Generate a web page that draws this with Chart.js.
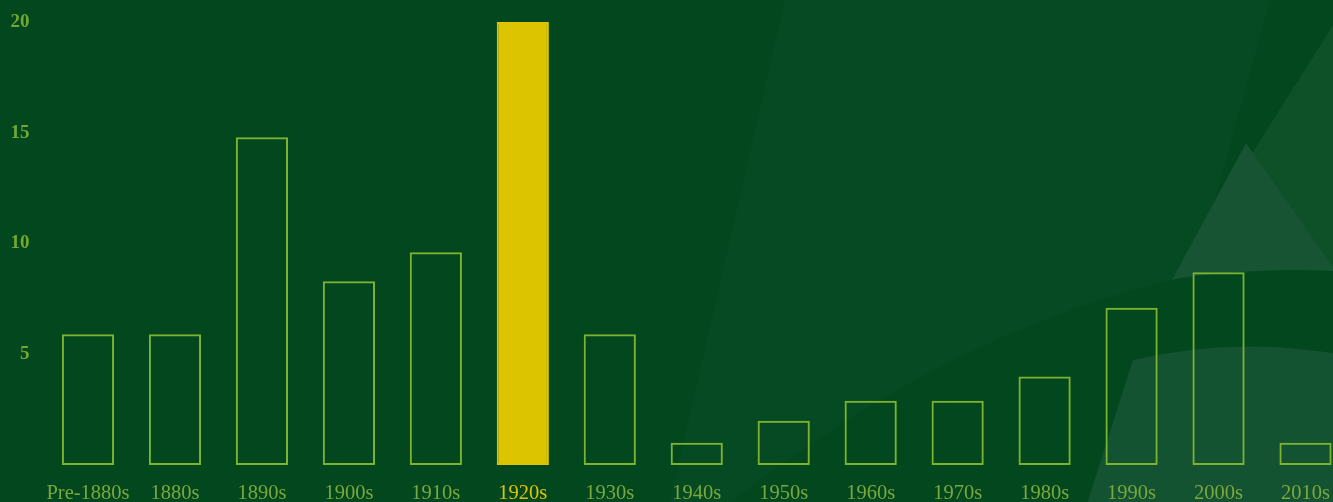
<!DOCTYPE html>
<html>
<head>
<meta charset="utf-8">
<script src="https://cdn.jsdelivr.net/npm/chart.js@4"></script>
<style>
  html, body { margin: 0; padding: 0; background: #03471f; overflow: hidden; }
  #wrap { width: 1349px; height: 510px; }
  canvas { display: block; }
</style>
</head>
<body>
<div id="wrap"><canvas id="myChart" width="1349" height="510"></canvas></div>
<script>
const decades = [
  "Pre-1880s", "1880s", "1890s", "1900s", "1910s", "1920s", "1930s", "1940s",
  "1950s", "1960s", "1970s", "1980s", "1990s", "2000s", "2010s",
];
const shares = [5.9, 5.9, 14.8, 8.3, 9.6, 20, 5.9, 1, 2, 2.9, 2.9, 4, 7.1, 8.7, 1];
const yTicks = [5, 10, 15, 20];
const highlight = "1920s";

const green = "#7db42f";
const yellow = "#dcc400";

// background shapes behind the bars
const backdrop = {
  id: "backdrop",
  beforeDraw(chart) {
    const c = chart.ctx;
    const poly = (pts, col) => {
      c.beginPath();
      c.moveTo(pts[0][0], pts[0][1]);
      for (let i = 1; i < pts.length; i++) c.lineTo(pts[i][0], pts[i][1]);
      c.closePath();
      c.fillStyle = col;
      c.fill();
    };
    c.save();
    c.fillStyle = "#03471f";
    c.fillRect(0, 0, chart.width, chart.height);
    poly([[785, 0], [1270, 0], [1130, 510], [668, 510]], "#054a23");
    poly([[1349, 0], [1349, 275], [1172, 280]], "#0e5128");
    poly([[1246, 143], [1349, 290], [1172, 280]], "#165433");
    // dark sweep
    c.beginPath();
    c.moveTo(720, 510);
    c.quadraticCurveTo(950, 330, 1180, 278);
    c.quadraticCurveTo(1270, 266, 1349, 272);
    c.lineTo(1349, 510);
    c.closePath();
    c.fillStyle = "#03471f";
    c.fill();
    // lower lighter patch
    c.beginPath();
    c.moveTo(1085, 510);
    c.lineTo(1133, 360);
    c.quadraticCurveTo(1240, 335, 1349, 356);
    c.lineTo(1349, 510);
    c.closePath();
    c.fillStyle = "#145332";
    c.fill();
    c.restore();
  },
};

const data = {
  labels: decades,
  datasets: [
    {
      data: shares,
      backgroundColor: decades.map((d) => (d === highlight ? yellow : "rgba(0,0,0,0)")),
      borderColor: decades.map((d) => (d === highlight ? yellow : green)),
      borderWidth: 2,
      borderSkipped: false,
      barPercentage: 0.6,
      categoryPercentage: 1,
    },
  ],
};

const config = {
  type: "bar",
  data: data,
  plugins: [backdrop],
  options: {
    responsive: false,
    animation: false,
    layout: { padding: { top: 22, right: 0, left: 0, bottom: 0 } },
    plugins: {
      legend: { display: false },
      tooltip: { enabled: false },
    },
    scales: {
      x: {
        grid: { display: false, drawTicks: false },
        border: { display: false },
        afterFit: (s) => { s.height = 45; s.paddingLeft = 0; s.paddingRight = 0; },
        ticks: {
          padding: 16,
          maxRotation: 0,
          autoSkip: false,
          font: { family: "Liberation Serif", size: 20.5 },
          color: (ctx) => (decades[ctx.index] === highlight ? yellow : "#7aa83a"),
        },
      },
      y: {
        min: 0,
        max: 20,
        grid: { display: false, drawTicks: false },
        border: { display: false },
        // label padding would otherwise push the plot top down
        afterFit: (s) => { s.width = 44.5; s.paddingTop = 0; s.paddingBottom = 0; },
        afterBuildTicks: (s) => { s.ticks = yTicks.map((v) => ({ value: v })); },
        ticks: {
          padding: 15,
          font: { family: "Liberation Serif", size: 19, weight: "bold" },
          color: "#72a832",
        },
      },
    },
  },
};

const myChart = new Chart(document.getElementById("myChart"), config);
</script>
</body>
</html>
